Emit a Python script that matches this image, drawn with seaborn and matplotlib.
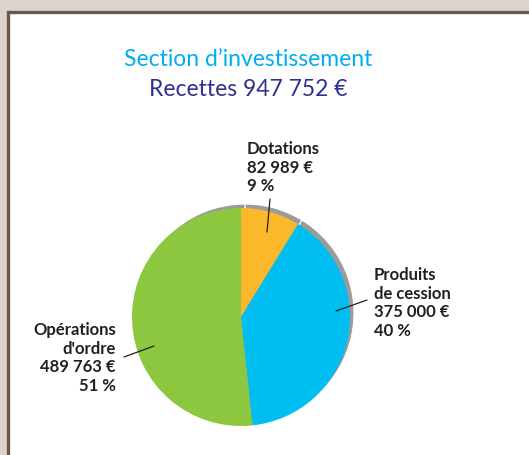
import matplotlib.pyplot as plt
import matplotlib.patches as mpatches
import seaborn as sns

# --- data ---
categories = ["Dotations", "Produits\nde cession", "Opérations\nd'ordre"]
amounts = [82989, 375000, 489763]
amount_labels = ["82 989 €", "375 000 €", "489 763 €"]
pct_labels = ["9 %", "40 %", "51 %"]
title_1 = "Section d\u2019investissement"
title_2 = "Recettes 947 752 €"

colors = ["#FBB82B", "#00BEF2", "#8DC63F"]

sns.set_theme(style="white")
plt.rcParams["font.family"] = ["Lato", "DejaVu Sans"]

W, H = 529, 455
fig = plt.figure(figsize=(W / 100, H / 100), dpi=100)
fig.patch.set_facecolor("#DAD3CE")
ax = fig.add_axes([0, 0, 1, 1])
ax.set_facecolor("none")


def Y(y):
    # pixel row from top -> data y
    return H - y


# white panel with brown border on left/top
ax.add_patch(mpatches.Rectangle((7.5, -5), W + 10, Y(11.5) + 5, facecolor="white",
                                edgecolor="#6B5849", linewidth=2.4, zorder=0))

cx, cy, r = 241, Y(317), 109

# shadow
ax.pie(amounts, colors=["#9B9B9B"] * 3, startangle=90, counterclock=False,
       center=(cx + 4, cy + 4), radius=r,
       wedgeprops=dict(edgecolor="white", linewidth=0.8), frame=True)
# main pie
ax.pie(amounts, colors=colors, startangle=90, counterclock=False,
       center=(cx, cy), radius=r, wedgeprops=dict(linewidth=0), frame=True)

ax.set_xlim(0, W)
ax.set_ylim(0, H)
ax.set_aspect("equal")
ax.axis("off")

# titles
ax.text(248, Y(59), title_1, ha="center", va="center", fontsize=16.5, color="#00AEEF")
ax.text(248, Y(89), title_2, ha="center", va="center", fontsize=16.5, color="#2E3192")

# labels
txt_kw = dict(fontsize=12, fontweight="bold", color="#231F20", linespacing=1.2, va="top")
labels = [f"{c}\n{a}\n{p}" for c, a, p in zip(categories, amount_labels, pct_labels)]
ax.text(247, Y(141), labels[0], ha="left", **txt_kw)
ax.text(374, Y(267), labels[1], ha="left", **txt_kw)
ax.text(116, Y(322), labels[2], ha="right", multialignment="right", **txt_kw)

# leader lines
line_kw = dict(color="#231F20", linewidth=0.9)
ax.plot([270, 267], [Y(199), Y(232)], **line_kw)
ax.plot([367, 336], [Y(300), Y(311)], **line_kw)
ax.plot([124, 154], [Y(357), Y(346)], **line_kw)

fig.savefig("out.png", dpi=100, facecolor=fig.get_facecolor())
